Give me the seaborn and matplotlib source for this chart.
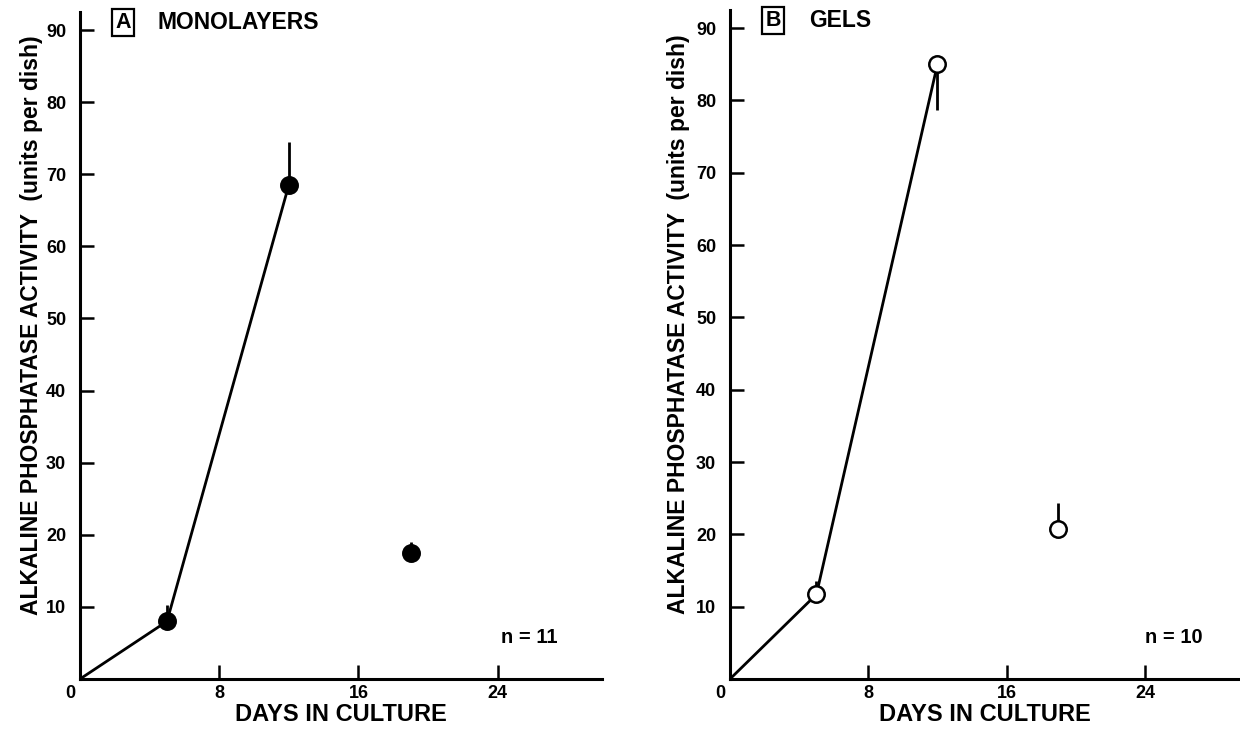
import matplotlib
matplotlib.use("Agg")
import matplotlib.pyplot as plt
import matplotlib.transforms as mtransforms
import seaborn as sns
import pandas as pd

# ---- data ----
days = [0, 5, 12, 19]
connected = [True, True, True, False]

mono_vals = [0, 8.0, 68.5, 17.5]
mono_err_top = [0, 10.3, 74.5, 19.0]
mono_err_bot = [0, 8.0, 68.5, 17.5]

gel_vals = [0, 11.7, 85.0, 20.8]
gel_err_top = [0, 13.5, 85.0, 24.4]
gel_err_bot = [0, 11.7, 78.7, 20.8]

x_ticks = [0, 8, 16, 24]
y_ticks = [10, 20, 30, 40, 50, 60, 70, 80, 90]

panels = [
    dict(letter="A", title="MONOLAYERS", vals=mono_vals, top=mono_err_top,
         bot=mono_err_bot, filled=True, n="n = 11"),
    dict(letter="B", title="GELS", vals=gel_vals, top=gel_err_top,
         bot=gel_err_bot, filled=False, n="n = 10"),
]

sns.set_theme(style="ticks")
plt.rcParams["font.family"] = ["Liberation Sans", "DejaVu Sans"]
plt.rcParams["font.weight"] = "bold"
plt.rcParams["text.color"] = "black"
plt.rcParams["axes.labelcolor"] = "black"
plt.rcParams["xtick.color"] = "black"
plt.rcParams["ytick.color"] = "black"

W, H = 1240, 732
fig = plt.figure(figsize=(W / 100, H / 100), dpi=100)

# axes rectangles in pixels: left, right, top, bottom
rects = [(80, 602, 12, 679), (730, 1240, 10, 679)]
xlims = [(0, 30), (0, 29.5)]
ylab_x = [-0.071, -0.078]

for p, (l, r, t, b), xl, yx in zip(panels, rects, xlims, ylab_x):
    ax = fig.add_axes([l / W, (H - b) / H, (r - l) / W, (b - t) / H])
    df = pd.DataFrame({"day": days, "val": p["vals"], "top": p["top"],
                       "bot": p["bot"], "conn": connected})
    line_df = df[df["conn"]]
    sns.lineplot(data=line_df, x="day", y="val", ax=ax, color="black",
                 linewidth=2.0, estimator=None, sort=False)
    ax.vlines(df["day"][1:], df["bot"][1:], df["top"][1:], color="black",
              linewidth=2.0, zorder=3)
    pts = df.iloc[1:]
    sns.scatterplot(data=pts, x="day", y="val", ax=ax, s=140,
                    color="black" if p["filled"] else "white",
                    edgecolor="black", linewidth=1.8, zorder=5)

    ax.set_xlim(*xl)
    ax.set_ylim(0, 92.5)
    ax.set_xticks(x_ticks)
    ax.set_yticks(y_ticks)
    ax.set_xticklabels([str(v) for v in x_ticks], fontsize=13, fontweight="bold")
    ax.set_yticklabels([str(v) for v in y_ticks], fontsize=13, fontweight="bold")
    ax.tick_params(axis="both", direction="in", length=10, width=1.8,
                   color="black", labelcolor="black")
    ax.tick_params(axis="y", pad=10)
    ax.tick_params(axis="x", pad=4)
    # the "0" label sits a little left of the origin in the reference
    lbl0 = ax.get_xticklabels()[0]
    lbl0.set_transform(lbl0.get_transform() +
                       mtransforms.ScaledTranslation(-10 / 100, 0, fig.dpi_scale_trans))
    for s in ["top", "right"]:
        ax.spines[s].set_visible(False)
    for s in ["left", "bottom"]:
        ax.spines[s].set_linewidth(2.2)
        ax.spines[s].set_color("black")

    ax.set_xlabel("DAYS IN CULTURE", fontsize=17, fontweight="bold", labelpad=1)
    ax.set_ylabel("ALKALINE PHOSPHATASE ACTIVITY  (units per dish)",
                  fontsize=16.5, fontweight="bold")
    ax.yaxis.set_label_coords(yx, 0.53)

    ax.text(0.067 if p["letter"] == "A" else 0.07, 0.984, p["letter"],
            transform=ax.transAxes, fontsize=15.5,
            fontweight="bold", va="center", ha="left",
            bbox=dict(boxstyle="square,pad=0.15", fc="white", ec="black", lw=1.6))
    ax.text(0.148 if p["letter"] == "A" else 0.155, 0.984, p["title"],
            transform=ax.transAxes, fontsize=16.5, fontweight="bold",
            va="center", ha="left")
    ax.text(0.86 if p["letter"] == "A" else 0.87, 0.062, p["n"],
            transform=ax.transAxes, fontsize=14.5, fontweight="bold",
            va="center", ha="center")

fig.savefig("out.png", dpi=100, facecolor="white")
